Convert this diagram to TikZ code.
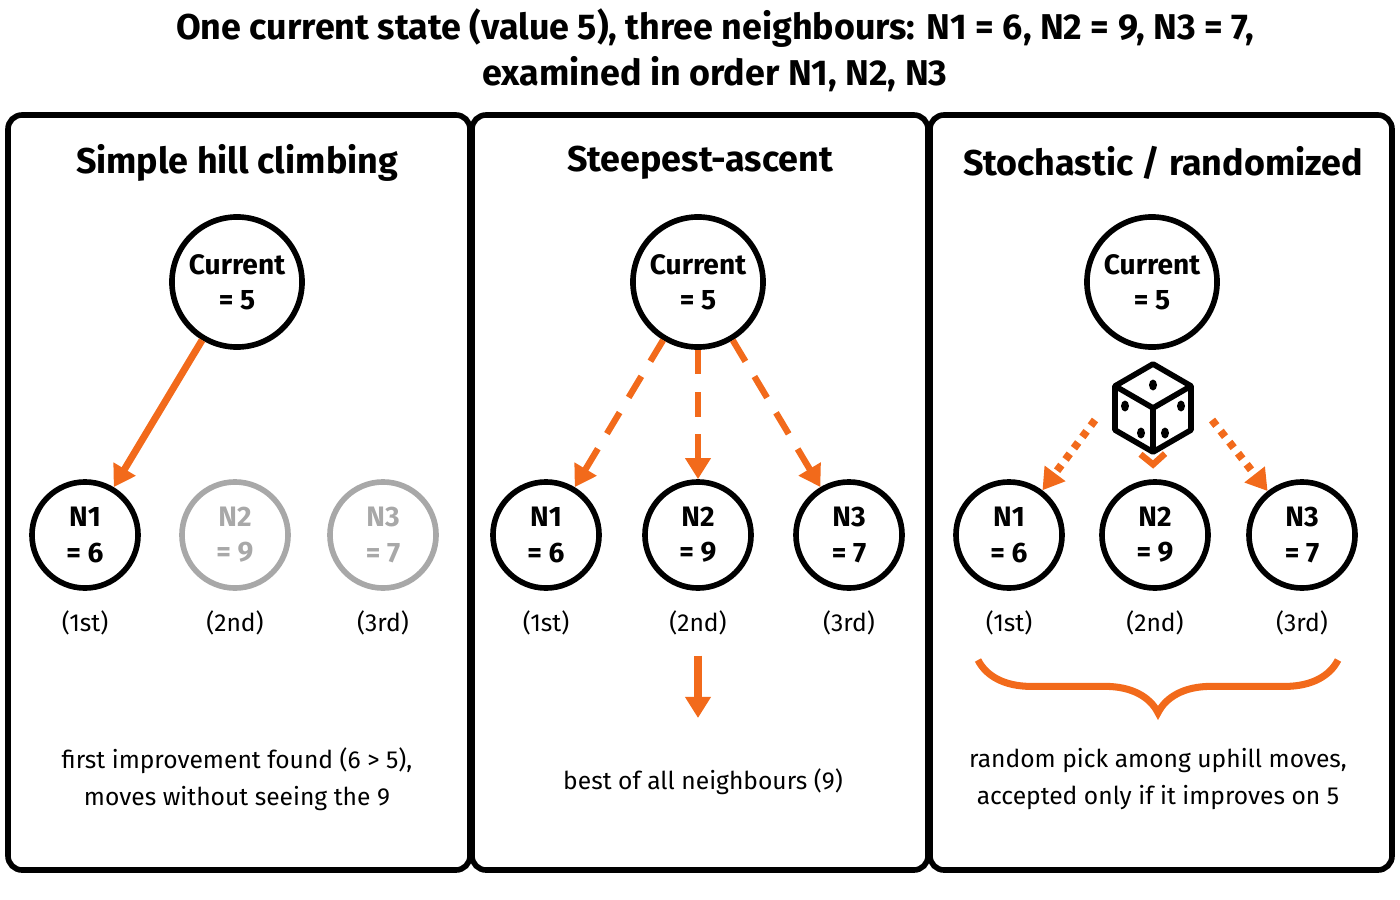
\documentclass[tikz,border=0pt]{standalone}
\usepackage{fontspec}
\setmainfont{Fira Sans}
\usetikzlibrary{arrows.meta,decorations.pathreplacing}
\definecolor{accent}{HTML}{F26A1B}
\definecolor{faded}{HTML}{A8A8A8}
\tikzset{
  panel/.style={draw, line width=1.6pt, rounded corners=4pt},
  cur/.style={draw, circle, line width=1.6pt, minimum size=1.3cm, inner sep=0pt, align=center, font=\fontsize{8}{10}\selectfont\bfseries},
  nbr/.style={draw, circle, line width=1.6pt, minimum size=1.06cm, inner sep=0pt, align=center, font=\fontsize{8}{10}\selectfont\bfseries},
  off/.style={draw=faded, text=faded},
  ord/.style={font=\fontsize{7}{9}\selectfont},
  note/.style={align=center, font=\fontsize{7}{10.5}\selectfont},
  ptitle/.style={font=\fontsize{10.2}{13}\selectfont\bfseries},
  move/.style={accent, line width=2pt, -{Triangle[width=7pt,length=6pt]}},
}
\begin{document}
\begin{tikzpicture}[x=0.01cm, y=-0.01cm]
  \useasboundingbox (0,0) rectangle (1400,900);
  % Title
  \node[font=\fontsize{10.2}{13}\selectfont\bfseries, align=center] (title) at (715,50)
    {One current state (value 5), three neighbours: N1 = 6, N2 = 9, N3 = 7,\\examined in order N1, N2, N3};

  % Panels
  \draw[panel] (8,115) rectangle (470,870);
  \draw[panel] (472,115) rectangle (928,870);
  \draw[panel] (930,115) rectangle (1392,870);
  \node[ptitle] (t1) at (237,163) {Simple hill climbing};
  \node[ptitle] (t2) at (700,163) {Steepest-ascent};
  \node[ptitle] (t3) at (1163,163) {Stochastic / randomized};

  % Current states
  \foreach \p/\x in {a/237, b/698, c/1152} {
    \node[cur] (c\p) at (\x,282) {Current\\= 5};
  }

  % Neighbours
  \foreach \p/\xa/\xb/\xc in {a/85/235/383, b/546/698/849, c/1009/1155/1302} {
    \node[ord] (o\p1) at (\xa,623) {(1st)};
    \node[ord] (o\p2) at (\xb,623) {(2nd)};
    \node[ord] (o\p3) at (\xc,623) {(3rd)};
  }
  \node[nbr] (na1) at (85,535) {N1\\= 6};
  \node[nbr, off] (na2) at (235,535) {N2\\= 9};
  \node[nbr, off] (na3) at (383,535) {N3\\= 7};
  \foreach \p/\xa/\xb/\xc in {b/546/698/849, c/1009/1155/1302} {
    \node[nbr] (n\p1) at (\xa,535) {N1\\= 6};
    \node[nbr] (n\p2) at (\xb,535) {N2\\= 9};
    \node[nbr] (n\p3) at (\xc,535) {N3\\= 7};
  }

  % Simple: first improvement
  \draw[move] (ca) -- (na1);

  % Steepest: all examined
  \foreach \i in {1,2,3} {
    \draw[move, dash pattern=on 7pt off 5pt, line width=1.8pt] (cb) -- (nb\i);
  }
  \coordinate (bbot) at (698,718);
  \draw[move] (ob2.south) ++(0,8) -- (bbot);

  % Stochastic: dice
  \coordinate (dice) at (1153,408);
  \draw[line width=1.6pt, line join=round] (1153,364) -- (1191,386) -- (1191,430) -- (1153,452) -- (1115,430) -- (1115,386) -- cycle;
  \draw[line width=1.6pt, line join=round] (1115,386) -- (1153,408) -- (1191,386) (1153,408) -- (1153,452);
  \foreach \dx/\dy in {1153/385, 1125/406, 1141/433, 1181/406, 1165/433} {
    \fill (\dx,\dy) ellipse (4 and 5.5);
  }
  \coordinate (dl) at (1095,420);
  \coordinate (dr) at (1212,420);
  \coordinate (dm) at (1153,462);
  \draw[move, dotted, line width=2.2pt] (dl) -- (nc1);
  \draw[move, dotted, line width=2.2pt] (dr) -- (nc3);
  \draw[accent, line width=1.8pt, shorten >=3pt, -{Straight Barb[width=7pt,length=3pt]}] (dm) -- (nc2);
  \draw[accent, line width=2pt, decorate, decoration={brace, mirror, amplitude=15pt}] (978,660) -- (1338,660);

  % Notes
  \node[note] (na) at (237,779) {first improvement found (6 > 5),\\moves without seeing the 9};
  \node[note] (nb) at (703,782) {best of all neighbours (9)};
  \node[note] (nc) at (1158,779) {random pick among uphill moves,\\accepted only if it improves on 5};
\end{tikzpicture}
\end{document}
